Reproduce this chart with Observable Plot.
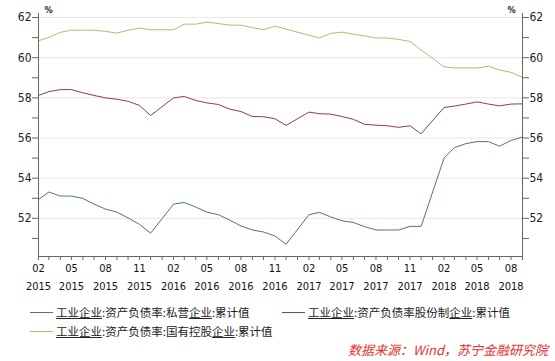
<!DOCTYPE html>
<html><head><meta charset="utf-8">
<script src="https://cdn.jsdelivr.net/npm/d3@7"></script>
<script src="https://cdn.jsdelivr.net/npm/@observablehq/plot@0.6"></script>
<style>
body{margin:0;background:#fff;}
#wrap{position:relative;width:555px;height:361px;overflow:hidden;font-family:"Noto Sans CJK SC",sans-serif;}
#chart svg{display:block;}
.leg{position:absolute;font-size:11.5px;line-height:14px;color:#222;display:flex;align-items:center;white-space:nowrap;}
.leg i{display:inline-block;width:23px;height:0;border-top:1px solid;margin-right:3px;}
.leg u{text-decoration:underline;text-underline-offset:1px;}
#src{position:absolute;right:7px;top:342px;font-size:13px;line-height:16px;color:#e3322f;font-style:italic;white-space:nowrap;}
</style></head>
<body><div id="wrap"><div id="chart"></div><div id="legend"></div><div id="src"></div></div>
<script>
const months = [
 "2015-02","2015-03","2015-04","2015-05","2015-06","2015-07","2015-08","2015-09","2015-10","2015-11","2015-12",
 "2016-02","2016-03","2016-04","2016-05","2016-06","2016-07","2016-08","2016-09","2016-10","2016-11","2016-12",
 "2017-02","2017-03","2017-04","2017-05","2017-06","2017-07","2017-08","2017-09","2017-10","2017-11","2017-12",
 "2018-02","2018-03","2018-04","2018-05","2018-06","2018-07","2018-08","2018-09"];
const seriesNames = ["工业企业:资产负债率:私营企业:累计值","工业企业:资产负债率股份制企业:累计值","工业企业:资产负债率:国有控股企业:累计值"];
const privateVals = [
 52.94,53.31,53.11,53.11,52.99,52.71,52.46,52.31,52.02,51.70,51.26,
 52.71,52.79,52.56,52.31,52.18,51.92,51.62,51.42,51.32,51.12,50.71,
 52.18,52.30,52.07,51.88,51.79,51.59,51.42,51.42,51.42,51.60,51.60,
 55.00,55.52,55.72,55.82,55.82,55.59,55.88,56.05];
const jointVals = [
 58.12,58.31,58.41,58.41,58.25,58.12,58.00,57.93,57.83,57.62,57.12,
 58.00,58.07,57.87,57.75,57.67,57.44,57.32,57.07,57.06,56.96,56.63,
 57.29,57.21,57.19,57.07,56.93,56.68,56.64,56.61,56.53,56.61,56.21,
 57.52,57.59,57.69,57.80,57.69,57.60,57.69,57.70];
const stateVals = [
 60.84,61.01,61.26,61.37,61.37,61.37,61.31,61.22,61.37,61.47,61.39,
 61.39,61.67,61.67,61.77,61.70,61.62,61.62,61.50,61.39,61.57,61.42,
 61.12,60.98,61.21,61.27,61.17,61.09,60.98,60.98,60.91,60.81,60.38,
 59.55,59.49,59.49,59.49,59.57,59.39,59.27,59.02];
const colors = ["#4f7389","#8b3f52","#b9b777"];
const yTicks = [52,54,56,58,60,62];
const yMinorTicks = [51,53,55,57,59,61];
const yDomain = [50.1,62.2];
const xLabelTicks = ["2015-02","2015-05","2015-08","2015-11","2016-02","2016-05","2016-08","2016-11",
 "2017-02","2017-05","2017-08","2017-11","2018-02","2018-05","2018-08"];
const unitLabel = "%";
const sourceText = "数据来源：Wind，苏宁金融研究院";

const parse = d3.utcParse("%Y-%m");
const data = [];
[privateVals, jointVals, stateVals].forEach((vals, i) =>
  vals.forEach((v, j) => data.push({date: parse(months[j]), value: v, series: seriesNames[i]})));
const x0 = parse(months[0]), x1 = parse(months[months.length - 1]);
const monthTicks = d3.utcMonth.range(x0, d3.utcMonth.offset(x1, 1));
const labelDates = xLabelTicks.map(parse);
const tickFont = "'DejaVu Sans Condensed','DejaVu Sans',sans-serif";
const axisStroke = "#666";

const chart = Plot.plot({
  width: 555, height: 300,
  marginLeft: 38, marginRight: 33, marginTop: 13, marginBottom: 44,
  style: {fontFamily: tickFont, fontSize: "11px", color: "#222", background: "#fff", overflow: "visible"},
  x: {type: "utc", domain: [x0, x1], label: null},
  y: {domain: yDomain, label: null},
  color: {domain: seriesNames, range: colors},
  marks: [
    Plot.gridY(yTicks, {stroke: "#e6e6e6", strokeOpacity: 1}),
    Plot.line(data, {x: "date", y: "value", z: "series", stroke: "series", strokeWidth: 1}),
    Plot.ruleX([x0], {stroke: axisStroke}),
    Plot.ruleX([x1], {stroke: axisStroke}),
    Plot.ruleY([yDomain[0]], {stroke: axisStroke}),
    Plot.axisY(yTicks, {anchor: "left", tickSize: 6, tickPadding: 1, fontSize: 12, stroke: axisStroke, fill: "#222", label: null}),
    Plot.axisY(yMinorTicks, {anchor: "left", tickSize: 6, tickFormat: () => "", stroke: axisStroke, label: null}),
    Plot.axisY(yTicks, {anchor: "right", tickSize: 6, tickPadding: 1, fontSize: 12, stroke: axisStroke, fill: "#222", label: null}),
    Plot.axisY(yMinorTicks, {anchor: "right", tickSize: 6, tickFormat: () => "", stroke: axisStroke, label: null}),
    Plot.axisX(monthTicks, {anchor: "bottom", tickSize: 4, tickFormat: () => "", stroke: axisStroke, label: null}),
    Plot.axisX(labelDates, {anchor: "bottom", tickSize: 0, tickPadding: 8, tickFormat: d3.utcFormat("%m"), fill: "#111", label: null}),
    Plot.axisX(labelDates, {anchor: "bottom", tickSize: 0, tickPadding: 26, tickFormat: d3.utcFormat("%Y"), fill: "#111", label: null}),
    Plot.text([unitLabel], {frameAnchor: "top-left", dx: 6, dy: -7, fontSize: 9, fontWeight: "bold", fill: "#222"}),
    Plot.text([unitLabel], {frameAnchor: "top-right", dx: -7, dy: -7, fontSize: 9, fontWeight: "bold", fill: "#222"})
  ]
});
document.getElementById("chart").appendChild(chart);

const legendPos = [{left: 30, top: 305}, {left: 282, top: 305}, {left: 30, top: 324}];
const legend = document.getElementById("legend");
seriesNames.forEach((name, i) => {
  const d = document.createElement("div");
  d.className = "leg";
  d.style.left = legendPos[i].left + "px";
  d.style.top = legendPos[i].top + "px";
  const k = name.lastIndexOf("企业");
  let html = name.slice(0, k) + "<u>企业</u>" + name.slice(k + 2);
  html = html.replace("工业企业", "<u>工业企业</u>");
  d.innerHTML = `<i style="border-color:${colors[i]}"></i><span>${html}</span>`;
  legend.appendChild(d);
});
document.getElementById("src").textContent = sourceText;
</script>
</body></html>
